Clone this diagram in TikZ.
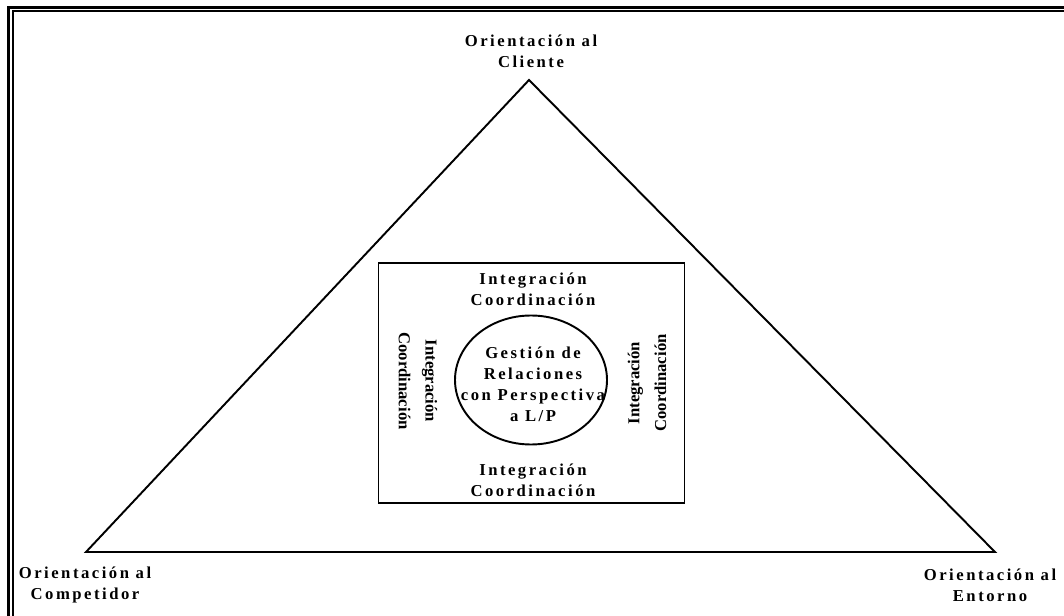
\documentclass[tikz,border=0pt]{standalone}
\usepackage{fontspec}
\setmainfont{Liberation Serif}
\newfontfamily\spacedserif[LetterSpace=15]{Liberation Serif}
\usetikzlibrary{shapes.geometric}
\begin{document}
\begin{tikzpicture}[x=0.75pt,y=-0.75pt,
  spacedtext/.style={font=\spacedserif\bfseries\fontsize{12.5pt}{15.75pt}\selectfont,
    align=center, inner sep=0pt},
  sidetext/.style={font=\bfseries\fontsize{12.5pt}{20pt}\selectfont,
    align=center, inner sep=0pt},
  frameline/.style={line cap=butt},
  shapeline/.style={line width=1.45pt, line join=miter}]
\useasboundingbox (0,0) rectangle (1064,616);
\begin{scope}
  \clip (0,0) rectangle (1064,616);
  % double frame, open towards the right and bottom
  \draw[frameline, line width=2.6pt] (8.5,640) -- (8.5,7.5) -- (1090,7.5);
  \draw[frameline, line width=1.5pt] (13,640) -- (13,11.5) -- (1090,11.5);
\end{scope}

% triangle corners
\coordinate (apex) at (529,80);
\coordinate (left) at (86,552);
\coordinate (right) at (995,552);
\draw[shapeline] (apex) -- (left) -- (right) -- cycle;

% corner labels
\node[spacedtext] (client) at (531,51) {Orientación al\\Cliente};
\node[spacedtext] (comp) at (85,585) {Orientación al\\Competidor};
\node[spacedtext] (env) at (990,585) {Orientación al\\Entorno};

% central box
\node[draw, shapeline, minimum width=306*0.75pt, minimum height=240*0.75pt, inner sep=0pt]
  (box) at (531.5,383) {};
\node[spacedtext] (topint) at (533,289) {Integración\\Coordinación};
\node[spacedtext] (botint) at (533,480) {Integración\\Coordinación};
\node[sidetext, rotate=-90] (leftint) at (418,381) {Integración\\Coordinación};
\node[sidetext, rotate=90] (rightint) at (647,383) {Integración\\Coordinación};

% core ellipse
\node[draw, shapeline, ellipse, minimum width=152*0.75pt, minimum height=129*0.75pt, inner sep=0pt]
  (core) at (531,380) {};
\node[spacedtext] (coretext) at (533,384) {Gestión de\\Relaciones\\con Perspectiva\\a L/P};
\end{tikzpicture}
\end{document}
